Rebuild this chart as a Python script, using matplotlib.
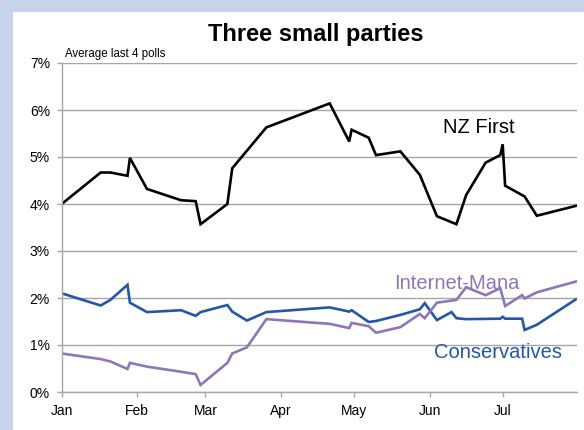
import datetime as dt
import matplotlib
matplotlib.use("Agg")
import matplotlib.pyplot as plt
from matplotlib.patches import Rectangle
from matplotlib.ticker import FuncFormatter

plt.rcParams['font.family'] = ['Liberation Sans', 'DejaVu Sans']

# poll averages, %
nzf_dates = ["2014-01-01", "2014-01-17", "2014-01-21", "2014-01-28", "2014-01-29",
             "2014-02-05", "2014-02-19", "2014-02-25", "2014-02-27", "2014-03-10",
             "2014-03-12", "2014-03-26", "2014-04-21", "2014-04-29", "2014-04-30",
             "2014-05-07", "2014-05-10", "2014-05-20", "2014-05-28", "2014-06-04",
             "2014-06-12", "2014-06-16", "2014-06-24", "2014-06-30", "2014-07-01",
             "2014-07-02", "2014-07-10", "2014-07-15", "2014-07-31"]
nzf_vals = [4.00, 4.67, 4.67, 4.60, 4.98, 4.32, 4.08, 4.06, 3.57, 4.00,
            4.76, 5.63, 6.14, 5.33, 5.58, 5.41, 5.04, 5.12, 4.62, 3.74,
            3.57, 4.19, 4.88, 5.04, 5.27, 4.39, 4.16, 3.75, 3.96]

con_dates = ["2014-01-01", "2014-01-17", "2014-01-21", "2014-01-28", "2014-01-29",
             "2014-02-05", "2014-02-19", "2014-02-25", "2014-02-27", "2014-03-10",
             "2014-03-12", "2014-03-18", "2014-03-26", "2014-04-21", "2014-04-29",
             "2014-04-30", "2014-05-07", "2014-05-10", "2014-05-20", "2014-05-28",
             "2014-05-30", "2014-06-04", "2014-06-10", "2014-06-12", "2014-06-16",
             "2014-06-30", "2014-07-01", "2014-07-02", "2014-07-09", "2014-07-10",
             "2014-07-15", "2014-07-31"]
con_vals = [2.10, 1.84, 1.96, 2.28, 1.90, 1.70, 1.74, 1.62, 1.70, 1.85,
            1.71, 1.52, 1.70, 1.80, 1.71, 1.74, 1.49, 1.51, 1.64, 1.76,
            1.89, 1.53, 1.70, 1.57, 1.55, 1.56, 1.60, 1.56, 1.56, 1.32,
            1.43, 1.97]

im_dates = ["2014-01-01", "2014-01-17", "2014-01-21", "2014-01-28", "2014-01-29",
            "2014-02-05", "2014-02-19", "2014-02-25", "2014-02-27", "2014-03-10",
            "2014-03-12", "2014-03-18", "2014-03-26", "2014-04-21", "2014-04-29",
            "2014-04-30", "2014-05-07", "2014-05-10", "2014-05-20", "2014-05-28",
            "2014-05-30", "2014-06-04", "2014-06-12", "2014-06-16", "2014-06-24",
            "2014-06-30", "2014-07-02", "2014-07-09", "2014-07-10", "2014-07-15",
            "2014-07-31"]
im_vals = [0.82, 0.70, 0.65, 0.49, 0.62, 0.54, 0.43, 0.38, 0.15, 0.62,
           0.82, 0.95, 1.55, 1.45, 1.36, 1.47, 1.40, 1.26, 1.38, 1.66,
           1.57, 1.90, 1.96, 2.23, 2.06, 2.21, 1.83, 2.06, 1.99, 2.12,
           2.35]

month_labels = ["Jan", "Feb", "Mar", "Apr", "May", "Jun", "Jul"]

BLACK = "#000000"
BLUE = "#2457A6"
PURPLE = "#8B78B8"
GRID = "#A6A6A6"


def to_dates(lst):
    return [dt.datetime.strptime(s, "%Y-%m-%d") for s in lst]


fig = plt.figure(figsize=(5.84, 4.30), dpi=100, facecolor="#C6D3EA")
fig.patches.append(Rectangle((13 / 584, 0), 1, (430 - 12) / 430,
                             transform=fig.transFigure, facecolor="white",
                             edgecolor="none", zorder=-10))

ax = fig.add_axes([61.7 / 584, 38 / 430, (577 - 61.7) / 584, (392 - 63) / 430])
ax.set_zorder(1)
ax.set_facecolor("white")

ax.plot(to_dates(nzf_dates), nzf_vals, color=BLACK, lw=1.9, solid_joinstyle="miter")
ax.plot(to_dates(con_dates), con_vals, color=BLUE, lw=1.9, solid_joinstyle="miter")
ax.plot(to_dates(im_dates), im_vals, color=PURPLE, lw=1.9, solid_joinstyle="miter")

ax.set_ylim(0, 7)
ax.set_yticks(range(0, 8))
ax.yaxis.set_major_formatter(FuncFormatter(lambda v, p: f"{int(v)}%"))
ax.grid(axis="y", color=GRID, lw=1)
ax.set_axisbelow(True)

ax.set_xlim(dt.datetime(2014, 1, 1), dt.datetime(2014, 7, 31, 12))
month_ticks = [dt.datetime(2014, m, 1) for m in range(1, 8)]
ax.set_xticks(month_ticks)
ax.set_xticklabels(month_labels)

for s in ["top", "right"]:
    ax.spines[s].set_visible(False)
for s in ["left", "bottom"]:
    ax.spines[s].set_color(GRID)
    ax.spines[s].set_linewidth(1)
ax.tick_params(axis="both", colors=GRID, length=3.5, width=1, labelcolor="black",
               labelsize=10)
ax.tick_params(axis="x", pad=5)
ax.tick_params(axis="y", pad=5)

fig.text(316 / 584, 1 - 35 / 430, "Three small parties", ha="center", va="center",
         fontsize=17, fontweight="bold")
ax.text(0.006, 1.01, "Average last 4 polls", transform=ax.transAxes,
        ha="left", va="bottom", fontsize=8.3)

ax.text(dt.datetime(2014, 6, 21), 5.63, "NZ First", color=BLACK, fontsize=14.5,
        ha="center", va="center")
ax.text(dt.datetime(2014, 6, 12), 2.30, "Internet-Mana", color=PURPLE, fontsize=14.5,
        ha="center", va="center")
ax.text(dt.datetime(2014, 6, 29), 0.85, "Conservatives", color=BLUE, fontsize=14.5,
        ha="center", va="center")

fig.savefig("out.png", dpi=100, facecolor=fig.get_facecolor())
